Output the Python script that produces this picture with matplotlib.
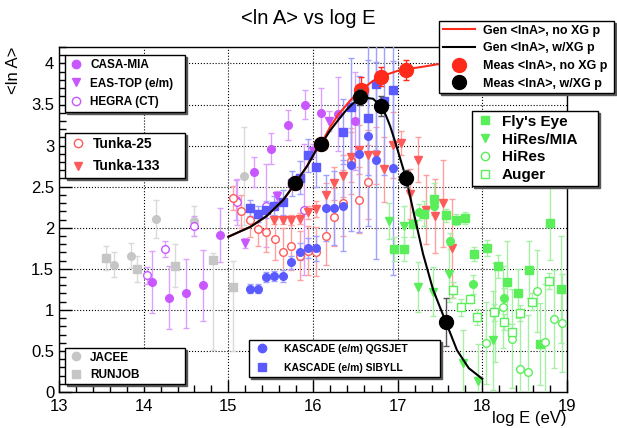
import matplotlib
matplotlib.use('Agg')
import matplotlib.pyplot as plt
from matplotlib.lines import Line2D
from matplotlib.ticker import MultipleLocator

plt.rcParams['font.family'] = ['Liberation Sans', 'DejaVu Sans']

# ---- data: log10(E/eV), <ln A>, error ----
casa_E = [14.10, 14.30, 14.50, 14.70, 14.90, 15.09, 15.30, 15.50, 15.70, 15.90, 16.10, 16.29, 16.50]
casa_A = [1.34, 1.15, 1.20, 1.30, 1.91, 2.34, 2.68, 2.96, 3.25, 3.50, 3.40, 3.38, 3.30]
casa_err = [0.38, 0.38, 0.42, 0.43, 0.33, 0.24, 0.18, 0.19, 0.18, 0.18, 0.30, 0.45, 0.60]

eastop_E = [15.20, 15.58, 16.00, 16.19]
eastop_A = [1.81, 2.39, 2.94, 3.30]
eastop_err = [0.06, 0.06, 0.08, 0.12]

hegra_E = [14.04, 14.25, 14.60, 15.10, 15.44, 15.89]
hegra_A = [1.42, 1.74, 2.02, 2.31, 2.27, 2.22]
hegra_err = [0.10, 0.10, 0.12, 0.28, 0.50, 0.80]

tunka25_E = [15.05, 15.15, 15.25, 15.35, 15.44, 15.55, 15.65, 15.74, 15.85, 15.94, 16.04,
             16.15, 16.25, 16.35, 16.45, 16.54, 16.65]
tunka25_A = [2.36, 2.20, 2.09, 1.98, 1.95, 1.86, 1.70, 1.78, 1.66, 1.72, 1.71,
             1.90, 2.13, 2.30, 2.81, 2.34, 2.56]
tunka25_err = [0.15, 0.20, 0.20, 0.20, 0.25, 0.25, 0.30, 0.30, 0.30, 0.30, 0.30,
               0.35, 0.35, 0.40, 0.40, 0.40, 0.45]

tunka133_E = [15.54, 15.64, 15.74, 15.85, 15.94, 16.04, 16.15, 16.25, 16.35, 16.45, 16.54,
              16.65, 16.74, 16.84, 16.94, 17.04, 17.15, 17.24, 17.34, 17.44, 17.54, 17.64]
tunka133_A = [2.09, 2.09, 2.09, 2.11, 2.19, 2.23, 2.40, 2.54, 2.63, 2.86, 2.95,
              2.89, 2.88, 2.71, 3.01, 3.03, 2.41, 2.83, 2.22, 2.14, 2.30, 1.75]
tunka133_err = [0.05, 0.05, 0.06, 0.07, 0.08, 0.10, 0.15, 0.20, 0.25, 0.30, 0.30,
                0.30, 0.35, 0.40, 0.40, 0.15, 0.30, 0.27, 0.42, 0.45, 0.53, 0.60]

qgs_E = [15.25, 15.35, 15.45, 15.54, 15.64, 15.74, 15.85, 15.94, 16.04, 16.15, 16.25,
         16.35, 16.45, 16.54, 16.65, 16.74, 16.94]
qgs_A = [1.26, 1.26, 1.40, 1.41, 1.41, 1.58, 1.71, 1.75, 1.75, 2.24, 2.24,
         2.27, 2.76, 2.90, 3.12, 2.82, 2.73]
qgs_err = [0.05, 0.05, 0.06, 0.06, 0.07, 0.08, 0.10, 0.12, 0.15, 0.40, 0.45,
           0.55, 0.80, 0.95, 1.10, 1.20, 1.30]

sib_E = [15.25, 15.35, 15.44, 15.54, 15.64, 15.75, 15.85, 15.94, 16.04, 16.35, 16.45,
         16.65, 16.74, 16.84, 16.95]
sib_A = [2.24, 2.17, 2.22, 2.27, 2.31, 2.54, 2.61, 2.88, 2.74, 3.17, 3.47,
         3.34, 3.75, 3.54, 3.68]
sib_err = [0.10, 0.10, 0.10, 0.12, 0.15, 0.15, 0.20, 0.20, 0.25, 0.40, 0.60,
           0.70, 0.80, 0.90, 1.00]

jacee_E = [13.65, 13.85, 14.15, 14.60, 15.19]
jacee_A = [1.55, 1.66, 2.11, 2.08, 2.63]
jacee_err = [0.15, 0.15, 0.23, 0.18, 0.60]

runjob_E = [13.56, 13.92, 14.37, 14.82, 15.05]
runjob_A = [1.63, 1.50, 1.54, 1.61, 1.28]
runjob_lo = [0.15, 0.16, 0.26, 1.10, 0.78]
runjob_hi = [0.15, 0.16, 0.26, 0.08, 0.31]

fly_E = [16.96, 17.07, 17.18, 17.31, 17.43, 17.57, 17.69, 17.80, 17.90, 18.06, 18.18,
         18.29, 18.42, 18.55, 18.68, 18.80, 18.93]
fly_A = [1.74, 1.74, 2.04, 2.17, 2.35, 2.15, 2.10, 2.12, 1.68, 1.75, 1.53,
         1.34, 1.20, 1.49, 0.58, 2.06, 1.25]
fly_err = [0.15, 0.15, 0.15, 0.15, 0.20, 0.08, 0.07, 0.07, 0.08, 0.10, 0.14,
           0.50, 0.30, 0.35, 0.50, 0.45, 0.65]

hrmia_E = [16.90, 17.07, 17.24, 17.42, 17.61, 17.77, 17.95, 18.13]
hrmia_A = [2.08, 2.02, 1.28, 1.22, 1.44, 0.35, 0.13, 0.63]
hrmia_err = [0.22, 0.25, 0.30, 0.30, 0.35, 0.40, 0.45, 0.60]

hires_E = [18.04, 18.15, 18.24, 18.35, 18.44, 18.54, 18.64, 18.74, 18.85, 18.94]
hires_A = [0.60, 0.97, 1.03, 0.65, 0.28, 0.24, 1.23, 0.61, 0.89, 0.84]
hires_err = [0.50, 0.60, 0.50, 0.60, 0.70, 0.70, 0.50, 0.70, 0.60, 0.60]

hiresf_E = [17.25, 17.43, 17.62, 17.89, 18.26]
hiresf_A = [2.19, 2.26, 1.84, 1.31, 1.15]
hiresf_err = [0.10, 0.10, 0.10, 0.12, 0.12]

auger_E = [17.65, 17.75, 17.85, 17.94, 18.14, 18.25, 18.35, 18.44, 18.59, 18.79]
auger_A = [1.24, 1.03, 1.13, 0.91, 0.97, 0.85, 0.73, 0.96, 1.10, 1.35]
auger_err = [0.10, 0.10, 0.05, 0.10, 0.10, 0.10, 0.10, 0.10, 0.10, 0.10]

# model curves and "measured" composition
gen_bk_E = [15.00, 15.26, 15.45, 15.65, 15.79, 15.93, 16.04, 16.10, 16.20, 16.32, 16.40,
            16.48, 16.56, 16.63, 16.71, 16.80, 16.86, 16.91, 16.96, 17.01, 17.10, 17.19,
            17.30, 17.42, 17.57, 17.70, 17.84, 18.00]
gen_bk_A = [1.89, 2.01, 2.14, 2.34, 2.54, 2.75, 2.95, 3.02, 3.18, 3.34, 3.44,
            3.52, 3.57, 3.58, 3.57, 3.48, 3.37, 3.24, 3.08, 2.91, 2.60, 2.18,
            1.68, 1.24, 0.85, 0.51, 0.29, 0.16]
gen_rd_E = [15.00, 15.26, 15.45, 15.65, 15.79, 15.93, 16.04, 16.10, 16.20, 16.30, 16.45,
            16.57, 16.70, 16.80, 17.00, 17.10, 17.30, 17.47, 17.70, 18.00]
gen_rd_A = [1.89, 2.01, 2.14, 2.34, 2.54, 2.75, 2.95, 3.03, 3.22, 3.38, 3.56,
            3.68, 3.78, 3.84, 3.91, 3.93, 3.96, 3.99, 4.00, 4.00]

meas_rd_E = [15.79, 16.10, 16.57, 16.80, 17.10]
meas_rd_A = [2.54, 3.02, 3.68, 3.84, 3.92]
meas_rd_err = [0.05, 0.05, 0.15, 0.12, 0.12]
meas_bk_E = [15.79, 16.09, 16.56, 16.80, 17.10, 17.57]
meas_bk_A = [2.54, 3.02, 3.59, 3.48, 2.60, 0.85]
meas_bk_err = [0.05, 0.06, 0.10, 0.12, 0.10, 0.29]

purple, purple_e = '#c957ff', '#dca0ff'
red, red_e = '#ff5a5a', '#ffa0a0'
blue, blue_e = '#5a5aff', '#a0a0ff'
green, green_e = '#5aee5a', '#a6f0a6'
grey, grey_e = '#c6c6c6', '#dadada'

fig = plt.figure(figsize=(6.17, 4.28), dpi=100)
ax = fig.add_axes([59 / 617, 1 - 392 / 428, 508 / 617, 345 / 428])


def pts(x, y, err, marker, col, ecol, filled=True, ms=5.5, z=3):
    ax.errorbar(x, y, yerr=err, fmt=marker, color=col, ecolor=ecol, ms=ms,
                mfc=col if filled else 'white', mec=col, mew=1.0,
                elinewidth=1.0, capsize=2, capthick=1.0, zorder=z)


pts(jacee_E, jacee_A, jacee_err, 'o', grey, grey_e)
pts(runjob_E, runjob_A, [runjob_lo, runjob_hi], 's', grey, grey_e)
pts(casa_E, casa_A, casa_err, 'o', purple, purple_e)
pts(eastop_E, eastop_A, eastop_err, 'v', purple, purple_e)
pts(hegra_E, hegra_A, hegra_err, 'o', purple, purple_e, filled=False)
pts(tunka25_E, tunka25_A, tunka25_err, 'o', red, red_e, filled=False)
pts(tunka133_E, tunka133_A, tunka133_err, 'v', red, red_e)
pts(qgs_E, qgs_A, qgs_err, 'o', blue, blue_e)
pts(sib_E, sib_A, sib_err, 's', blue, blue_e)
pts(fly_E, fly_A, fly_err, 's', green, green_e)
pts(hrmia_E, hrmia_A, hrmia_err, 'v', green, green_e)
pts(hiresf_E, hiresf_A, hiresf_err, 'o', green, green_e)
pts(hires_E, hires_A, hires_err, 'o', green, green_e, filled=False)
pts(auger_E, auger_A, auger_err, 's', green, green_e, filled=False)

ax.plot(gen_rd_E, gen_rd_A, color='#ff2a1a', lw=1.5, zorder=5)
ax.plot(gen_bk_E, gen_bk_A, color='black', lw=1.5, zorder=6)
ax.errorbar(meas_rd_E, meas_rd_A, yerr=meas_rd_err, fmt='o', color='#ff2a1a', ms=10,
            ecolor='#ff2a1a', elinewidth=1, capsize=2, zorder=7)
ax.errorbar(meas_bk_E, meas_bk_A, yerr=meas_bk_err, fmt='o', color='black', ms=10,
            ecolor='#555555', elinewidth=1, capsize=2, zorder=8)

ax.set_xlim(13, 19)
ax.set_ylim(0, 4.2)
ax.xaxis.set_major_locator(MultipleLocator(1))
ax.xaxis.set_minor_locator(MultipleLocator(0.2))
ax.yaxis.set_major_locator(MultipleLocator(0.5))
ax.yaxis.set_minor_locator(MultipleLocator(0.1))
ax.yaxis.set_major_formatter(matplotlib.ticker.FuncFormatter(lambda v, p: '%g' % v))
ax.tick_params(which='both', direction='in', top=False, right=False, labelsize=12)
ax.tick_params(axis='x', pad=5)
ax.tick_params(which='major', length=9, width=1)
ax.tick_params(which='minor', length=5, width=1)
ax.grid(True, which='major', linestyle=':', color='black', lw=0.8)
for s in ax.spines.values():
    s.set_linewidth(1.0)

fig.text(0.5, 1 - 18 / 428, '<ln A> vs log E', ha='center', va='center', fontsize=14.5)
ax.set_ylabel('<ln A>', loc='top', fontsize=12)
ax.yaxis.set_label_coords(-0.075, 1.0)
ax.set_xlabel('log E (eV)', loc='right', fontsize=12)
ax.xaxis.set_label_coords(1.0, -0.055)


def mk(marker, col, filled=True, ms=6):
    return Line2D([], [], ls='none', marker=marker, color=col, ms=ms,
                  mfc=col if filled else 'white', mec=col)


def box(handles, labels, x0, y0, x1, y1, fs, **kw):
    leg = fig.legend(handles, labels, loc='upper left', mode='expand',
                     bbox_to_anchor=(x0 / 617, 1 - y1 / 428, (x1 - x0) / 617, (y1 - y0) / 428),
                     borderaxespad=0, fancybox=False, edgecolor='black', framealpha=1,
                     prop={'weight': 'bold', 'size': fs}, shadow={'ox': 1.5, 'oy': -1.5, 'color': '0.35', 'alpha': 1},
                     **kw)
    leg.get_frame().set_linewidth(1.0)
    return leg


box([mk('o', purple), mk('v', purple), mk('o', purple, False)],
    ['CASA-MIA', 'EAS-TOP (e/m)', 'HEGRA (CT)'], 65, 55, 185, 110, 8.5,
    labelspacing=0.55, handlelength=1.2, handletextpad=0.6, borderpad=0.35)
box([mk('o', red, False), mk('v', red)], ['Tunka-25', 'Tunka-133'], 65, 133, 185, 175, 10,
    labelspacing=0.6, handlelength=1.2, handletextpad=0.5, borderpad=0.3)
box([mk('o', grey), mk('s', grey)], ['JACEE', 'RUNJOB'], 65, 348, 185, 383, 8.5,
    labelspacing=0.45, handlelength=1.2, handletextpad=0.6, borderpad=0.3)
box([mk('o', blue), mk('s', blue)], ['KASCADE (e/m) QGSJET', 'KASCADE (e/m) SIBYLL'],
    249, 340, 440, 383, 7.5, labelspacing=0.9, handlelength=1.8, handletextpad=1.2, borderpad=0.35)
box([Line2D([], [], color='#ff2a1a', lw=1.5), Line2D([], [], color='black', lw=1.5),
     mk('o', '#ff2a1a', ms=10), mk('o', 'black', ms=10)],
    ['Gen <lnA>, no XG p', 'Gen <lnA>, w/XG p', 'Meas <lnA>, no XG p', 'Meas <lnA>, w/XG p'],
    439, 21, 614, 98, 9, labelspacing=0.45, handlelength=2.6, handletextpad=0.6, borderpad=0.3)
box([mk('s', green), mk('v', green), mk('o', green, False), mk('s', green, False)],
    ["Fly's Eye", 'HiRes/MIA', 'HiRes', 'Auger'], 472, 111, 598, 184, 11,
    labelspacing=0.25, handlelength=1.2, handletextpad=0.5, borderpad=0.25)

fig.savefig('out.png', dpi=100)
